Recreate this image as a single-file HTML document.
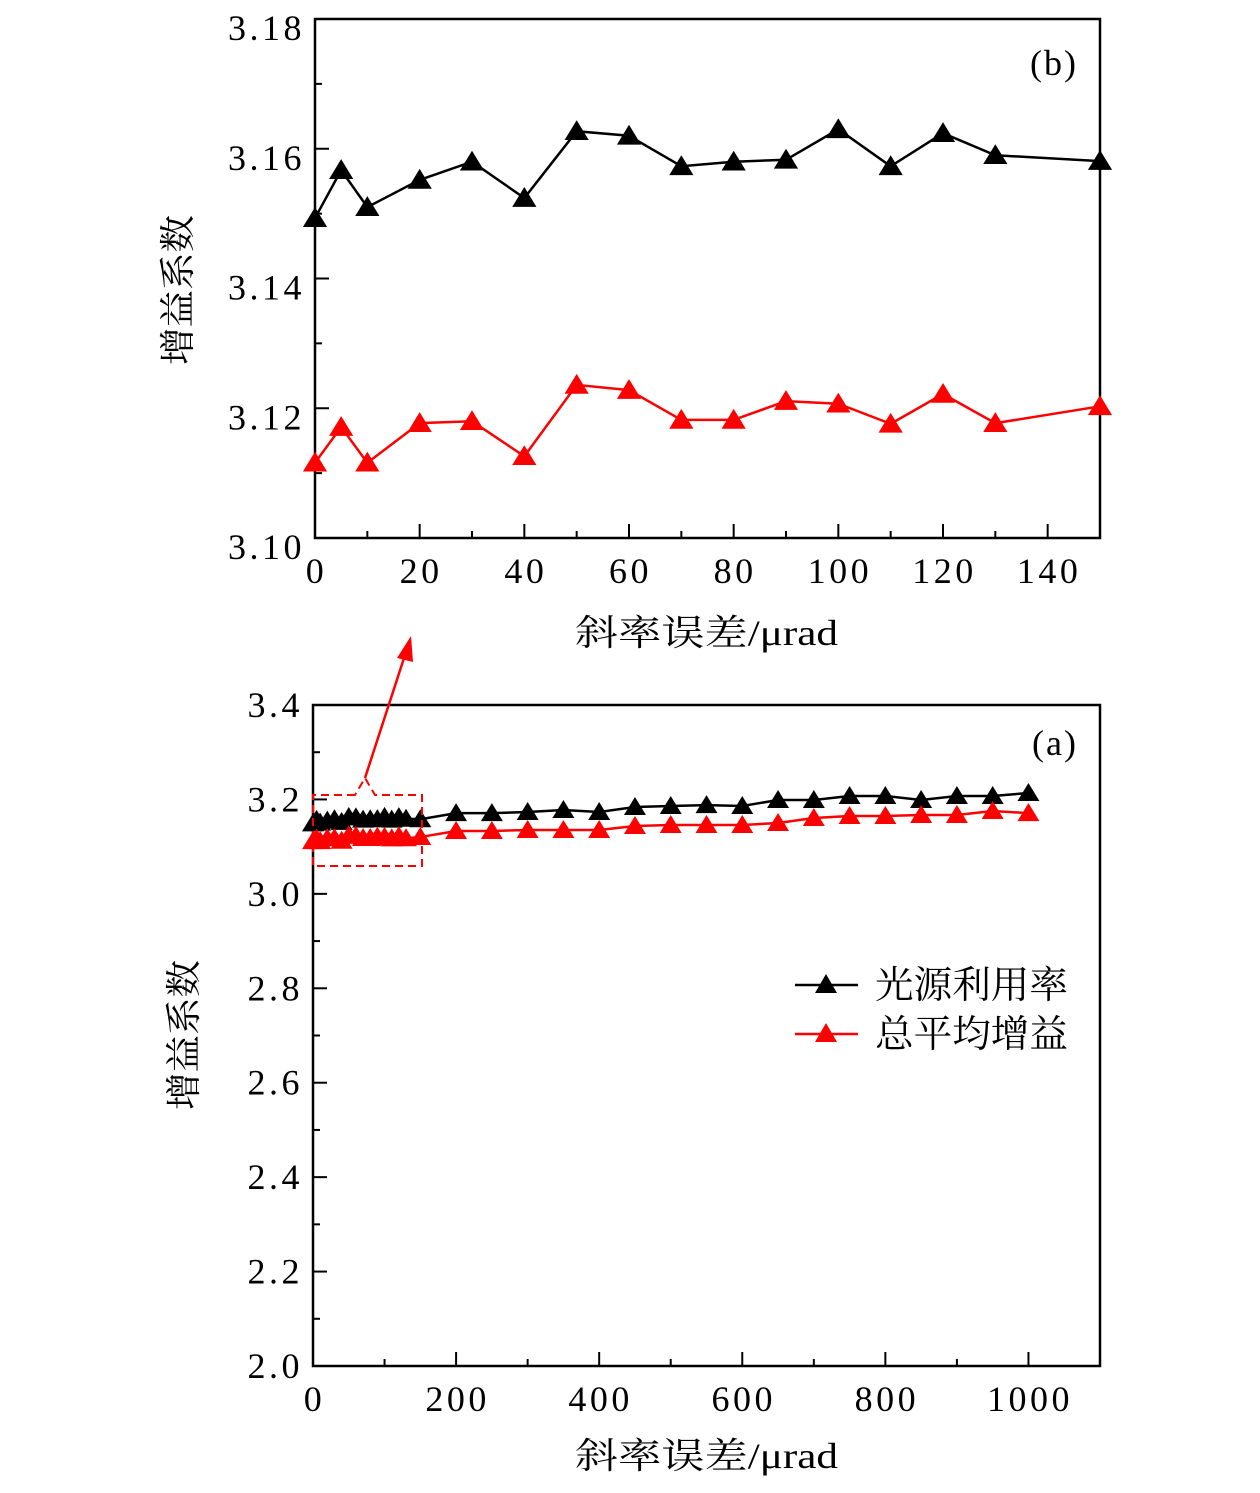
<!DOCTYPE html>
<html><head><meta charset="utf-8"><style>
html,body{margin:0;padding:0;background:#fff;}
svg text{font-family:"Liberation Serif","Noto Serif CJK SC",serif;fill:#000;}
</style></head><body>
<svg id="chart" width="1260" height="1488" xmlns="http://www.w3.org/2000/svg"></svg>
<script>
const topX=[0,5,10,20,30,40,50,60,70,80,90,100,110,120,130,150];
const topBlack=[3.1493,3.1567,3.151,3.1552,3.158,3.1524,3.1627,3.162,3.1573,3.158,3.1583,3.163,3.1573,3.1624,3.159,3.1581];
const topRed=[3.1116,3.1171,3.1116,3.1177,3.118,3.1126,3.1236,3.1228,3.1182,3.1182,3.1211,3.1207,3.1176,3.1222,3.1177,3.1203];
const botXExtra=[200,250,300,350,400,450,500,550,600,650,700,750,800,850,900,950,1000];
const botBlackExtra=[3.171,3.171,3.1734,3.1776,3.1734,3.184,3.1861,3.188,3.1861,3.1988,3.1988,3.2073,3.2073,3.1988,3.2073,3.2073,3.2136];
const botRedExtra=[3.1332,3.1332,3.1353,3.1353,3.1353,3.1438,3.1459,3.1459,3.1459,3.1501,3.1607,3.165,3.165,3.167,3.167,3.1755,3.171];
const topXTicks=[0,20,40,60,80,100,120,140];
const topYTicks=[3.10,3.12,3.14,3.16,3.18];
const botXTicks=[0,200,400,600,800,1000];
const botYTicks=[2.0,2.2,2.4,2.6,2.8,3.0,3.2,3.4];

const svg=document.getElementById('chart');
const NS='http://www.w3.org/2000/svg';
function mk(tag,attrs,parent){const e=document.createElementNS(NS,tag);for(const k in attrs)e.setAttribute(k,attrs[k]);(parent||svg).appendChild(e);return e;}

function drawPanel(o){
  const g=mk('g',{});
  
  
  const sx=v=>o.x0+(v-o.xmin)/(o.xmax-o.xmin)*(o.x1-o.x0);
  const sy=v=>o.y1-(v-o.ymin)/(o.ymax-o.ymin)*(o.y1-o.y0);
  const frame=mk('rect',{x:o.x0,y:o.y0,width:o.x1-o.x0,height:o.y1-o.y0,fill:'none',stroke:'#000','stroke-width':2.5},g);
  
  
  o.xticks.forEach(v=>{
    mk('line',{x1:sx(v),x2:sx(v),y1:o.y1,y2:o.y1-14,stroke:'#000','stroke-width':2},g);
    const t=mk('text',{x:sx(v)+1.5,y:o.y1+45,'font-size':36,'letter-spacing':3.5,'text-anchor':'middle'},g);t.textContent=o.xfmt(v);
    
    
  });
  for(let i=0;i<o.xticks.length;i++){const v=o.xticks[i]+o.xminor;if(v<o.xmax)mk('line',{x1:sx(v),x2:sx(v),y1:o.y1,y2:o.y1-7,stroke:'#000','stroke-width':2},g);}
  o.yticks.forEach((v,i)=>{
    mk('line',{x1:o.x0,x2:o.x0+14,y1:sy(v),y2:sy(v),stroke:'#000','stroke-width':2},g);
    const t=mk('text',{x:o.x0-10,y:sy(v)+12+o.yOff,'font-size':36,'letter-spacing':3.5,'text-anchor':'end'},g);t.textContent=o.yfmt(v);
    
    
    const m=v+o.yminor;if(m<o.ymax)mk('line',{x1:o.x0,x2:o.x0+7,y1:sy(m),y2:sy(m),stroke:'#000','stroke-width':2},g);
  });
  const yl=mk('text',{x:0,y:0,'font-size':36,textLength:150,lengthAdjust:'spacingAndGlyphs','text-anchor':'middle',transform:`translate(${o.ylx},${o.ylc}) rotate(-90)`},g);yl.textContent='增益系数';
  
  
  const xl=mk('text',{x:575,y:o.xly,'font-size':36,textLength:263,lengthAdjust:'spacingAndGlyphs'},g);xl.textContent='斜率误差/μrad';
  
  
  const pl=mk('text',{x:o.x1-22,y:o.y0+o.ply,'font-size':36,'letter-spacing':2,'text-anchor':'end'},g);pl.textContent=o.label;
  
  
  o.series.forEach(s=>{
    const pts=s.x.map((v,i)=>sx(v)+','+sy(s.y[i])).join(' ');
    const line=mk('polyline',{points:pts,fill:'none',stroke:s.color,'stroke-width':2.5},g);
    
    
    s.x.forEach((v,i)=>{
      const cx=sx(v),cy=sy(s.y[i]),r=o.ms;
      const p=mk('polygon',{points:`${cx},${cy-r} ${cx-r*1.1},${cy+r*0.8} ${cx+r*1.1},${cy+r*0.8}`,fill:s.color},g);
      
      
    });
  });
}
drawPanel({name:'panel-b',x0:315,x1:1100,y0:19,y1:538,xmin:0,xmax:150,ymin:3.10,ymax:3.18,xticks:topXTicks,xminor:10,yticks:topYTicks,yminor:0.01,
  xfmt:v=>String(v),yfmt:v=>v.toFixed(2),ylx:190,ylc:290,xly:645,label:'(b)',ply:56,ms:11,yOff:9,
  series:[{name:'black-series',color:'#000',x:topX,y:topBlack},{name:'red-series',color:'#f00',x:topX,y:topRed}]});
drawPanel({name:'panel-a',x0:313,x1:1100,y0:705,y1:1366,xmin:0,xmax:1100,ymin:2.0,ymax:3.4,xticks:botXTicks,xminor:100,yticks:botYTicks,yminor:0.1,
  xfmt:v=>String(v),yfmt:v=>v.toFixed(1),ylx:196,ylc:1035,xly:1468,label:'(a)',ply:50,ms:10,yOff:0,
  series:[{name:'black-series',color:'#000',x:topX.concat(botXExtra),y:topBlack.concat(botBlackExtra)},
          {name:'red-series',color:'#f00',x:topX.concat(botXExtra),y:topRed.concat(botRedExtra)}]});
const cb=mk('path',{d:'M355,795 L313,795 L313,866 L422,866 L422,795 L375,795 L365,778 Z',fill:'none',stroke:'#f00','stroke-width':2,'stroke-dasharray':'8,5'});


const ar=mk('line',{x1:365,y1:778,x2:405,y2:655,stroke:'#f00','stroke-width':2.5});


const ah=mk('polygon',{points:'411,636 397,658 413,662',fill:'#f00'});


[['光源利用率','#000',985],['总平均增益','#f00',1034]].forEach(([t,c,y])=>{
  const g=mk('g',{});
  
  
  mk('line',{x1:795,x2:858,y1:y,y2:y,stroke:c,'stroke-width':2.5},g);
  mk('polygon',{points:`826,${y-11} 815,${y+8} 837,${y+8}`,fill:c},g);
  const tx=mk('text',{x:875,y:y+13,'font-size':38,textLength:193,lengthAdjust:'spacingAndGlyphs'},g);tx.textContent=t;
});
</script>
</body></html>
